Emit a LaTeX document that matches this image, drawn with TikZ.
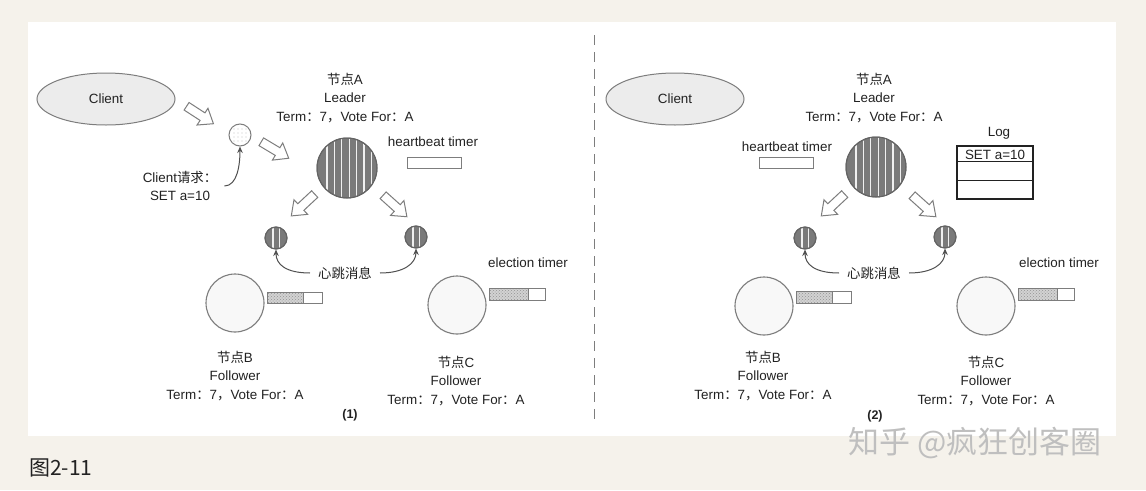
\documentclass[tikz,border=0pt]{standalone}
\usepackage{fontspec}
\setmainfont{Liberation Sans}
\newfontfamily\cjk{Noto Sans CJK SC}
\usetikzlibrary{shapes.geometric,arrows.meta,patterns,calc}
\definecolor{bgc}{RGB}{245,242,235}
\definecolor{txtc}{RGB}{34,34,34}
\definecolor{linec}{RGB}{125,125,125}
\definecolor{curvec}{RGB}{80,80,80}
\definecolor{leadf}{RGB}{122,122,122}
\definecolor{leadb}{RGB}{100,100,100}
\definecolor{follf}{RGB}{248,248,248}
\definecolor{clientf}{RGB}{236,236,236}
\newcommand\stripednode[4]{%
  \node[circle, draw=leadb, fill=leadf, line width=1pt, minimum size=2*#3pt, inner sep=0pt] (#1) at #2 {};
  \begin{scope}
    \clip (#1.center) circle (#3pt - 0.7pt);
    \foreach \dx in {#4} {\draw[stripe] ([xshift=\dx pt]#1.center) ++(0,-#3-3) -- ++(0,2*#3+6);}
  \end{scope}
  \draw[leadb, line width=1pt] (#1.center) circle (#3pt);}
\newcommand\timerbox[3]{% name, center, fraction
  \node[tbox] (#1) at #2 {};
  \fill[preaction={fill=gray!35}, pattern=crosshatch dots, pattern color=gray!85]
    (#1.north west) rectangle ($(#1.south west)!#3!(#1.south east)$);
  \draw[linec, line width=1pt] ($(#1.north west)!#3!(#1.north east)$) -- ($(#1.south west)!#3!(#1.south east)$);
  \draw[linec, line width=1pt] (#1.north west) rectangle (#1.south east);}
\tikzset{
  txt/.style={font=\fontsize{13.4}{18.8}\selectfont, text=txtc, inner sep=0pt, align=center},
  client/.style={ellipse, draw=linec, fill=clientf, line width=1pt, minimum width=138pt, minimum height=52pt, font=\fontsize{13.4}{16}\selectfont, text=txtc},
  follower/.style={circle, draw=linec, fill=follf, line width=1.1pt, minimum size=58pt, inner sep=0pt},
  stripe/.style={white!88!gray, line width=1.3pt},
  tbox/.style={rectangle, minimum width=55pt, minimum height=11pt, inner sep=0pt},
  hbbox/.style={rectangle, draw=linec, fill=white, line width=1pt, minimum width=54pt, minimum height=11pt, inner sep=0pt},
  carrow/.style={curvec, line width=1pt, -{Stealth[length=6.5pt,width=5.5pt]}},
  harrow/.pic={\draw[linec, fill=white, line width=1pt, line join=miter]
     (-16,-4.5) -- (3,-4.5) -- (3,-10) -- (16,0) -- (3,10) -- (3,4.5) -- (-16,4.5) -- cycle;},
  divider/.style={linec, line width=1pt, dash pattern=on 10pt off 7pt},
}
\begin{document}
\begin{tikzpicture}[x=1pt,y=-1pt]
\useasboundingbox (0,0) rectangle (1146,490);
\fill[bgc] (0,0) rectangle (1146,490);
\fill[white] (28,22) rectangle (1116,436);

% ===== Panel 1 =====
\node[client] (cl1) at (106,99) {Client};
\pic[rotate=-33] at (200,115) {harrow};
\node[circle, draw=linec, fill=white, line width=1pt, minimum size=22pt, inner sep=0pt] (dot1) at (240,135) {};
\begin{scope}
  \clip (dot1.center) circle (10pt);
  \foreach \i in {-6,-2,2,6} \foreach \j in {-6,-2,2,6} \fill[gray!45] ($(dot1.center)+(\i,\j)$) circle (0.7pt);
\end{scope}
\pic[rotate=-31] at (275,150) {harrow};
\node[txt, inner xsep=7pt] (req1) at (180,186) {Client{\cjk 请求：}\\SET a=10};
\draw[carrow] (req1.east) .. controls +(13,0) and +(0,18) .. (dot1.south);

\node[txt] (la1) at (345,98) {{\cjk 节点}A\\Leader\\Term{\cjk ：}7{\cjk ，}Vote For{\cjk ：}A};
\stripednode{A1}{(347,168)}{30}{-20,-12.6,-5.2,2.2,9.6,17,24.4}
\node[txt] (hbt1) at (433,142) {heartbeat timer};
\node[hbbox] (hbr1) at (434,162.5) {};
\pic[rotate=-137] at (303,205) {harrow};
\pic[rotate=-42] at (395,206) {harrow};
\stripednode{m1l}{(276,238)}{11}{-3,3.5}
\stripednode{m1r}{(416,237)}{11}{-3,3.5}
\node[txt, inner xsep=8pt] (hb1) at (345,273) {\cjk 心跳消息};
\draw[carrow] (hb1.west) .. controls +(-24,0) and +(0,15) .. (m1l.south);
\draw[carrow] (hb1.east) .. controls +(24,0) and +(0,15) .. (m1r.south);

\node[follower] (B1) at (235,303) {};
\timerbox{tb1}{(295,298)}{0.65}
\node[follower] (C1) at (457,305) {};
\timerbox{tc1}{(517.5,294.5)}{0.7}
\node[txt] (et1) at (528,263) {election timer};
\node[txt] (lb1) at (235,376) {{\cjk 节点}B\\Follower\\Term{\cjk ：}7{\cjk ，}Vote For{\cjk ：}A};
\node[txt] (lc1) at (456,381) {{\cjk 节点}C\\Follower\\Term{\cjk ：}7{\cjk ，}Vote For{\cjk ：}A};
\node[txt, font=\fontsize{12.5}{15}\selectfont\bfseries] (cap1) at (350,415) {(1)};

% divider
\coordinate (dtop) at (594,35);
\coordinate (dbot) at (594,420);
\draw[divider] (dtop) -- (dbot);

% ===== Panel 2 =====
\node[client] (cl2) at (675,99) {Client};
\node[txt] (la2) at (874,98) {{\cjk 节点}A\\Leader\\Term{\cjk ：}7{\cjk ，}Vote For{\cjk ：}A};
\stripednode{A2}{(876,167)}{30}{-20,-12.6,-5.2,2.2,9.6,17,24.4}
\node[txt] (hbt2) at (787,147) {heartbeat timer};
\node[hbbox] (hbr2) at (786.5,162.5) {};
\node[txt] (logt) at (999,133) {Log};
\node[rectangle, draw=txtc, line width=1.3pt, minimum width=76pt, minimum height=53pt, inner sep=0pt] (log) at (995,172.5) {};
\draw[txtc, line width=1.3pt] ($(log.north west)+(0,16)$) -- ($(log.north east)+(0,16)$);
\draw[txtc, line width=1.3pt] ($(log.north west)+(0,35)$) -- ($(log.north east)+(0,35)$);
\node[txt] (logr1) at (995,155) {SET a=10};
\pic[rotate=-137] at (833,205) {harrow};
\pic[rotate=-42] at (924,206) {harrow};
\stripednode{m2l}{(805,238)}{11}{-3,3.5}
\stripednode{m2r}{(945,237)}{11}{-3,3.5}
\node[txt, inner xsep=8pt] (hb2) at (874,273) {\cjk 心跳消息};
\draw[carrow] (hb2.west) .. controls +(-24,0) and +(0,15) .. (m2l.south);
\draw[carrow] (hb2.east) .. controls +(24,0) and +(0,15) .. (m2r.south);

\node[follower] (B2) at (764,306) {};
\timerbox{tb2}{(824,297.5)}{0.65}
\node[follower] (C2) at (986,306) {};
\timerbox{tc2}{(1046.5,294.5)}{0.7}
\node[txt] (et2) at (1059,263) {election timer};
\node[txt] (lb2) at (763,376) {{\cjk 节点}B\\Follower\\Term{\cjk ：}7{\cjk ，}Vote For{\cjk ：}A};
\node[txt] (lc2) at (986,381) {{\cjk 节点}C\\Follower\\Term{\cjk ：}7{\cjk ，}Vote For{\cjk ：}A};
\node[txt, font=\fontsize{12.5}{15}\selectfont\bfseries] (cap2) at (875,416) {(2)};

% caption & watermark
\node[anchor=west, inner sep=0pt, text=txtc, font=\cjk\fontsize{21}{24}\selectfont] (fig) at (29,468) {图2-11};
\node[inner sep=0pt, text=gray!50, font=\cjk\fontsize{31}{34}\selectfont] (wm) at (975,443) {知乎 @疯狂创客圈};
\end{tikzpicture}
\end{document}
